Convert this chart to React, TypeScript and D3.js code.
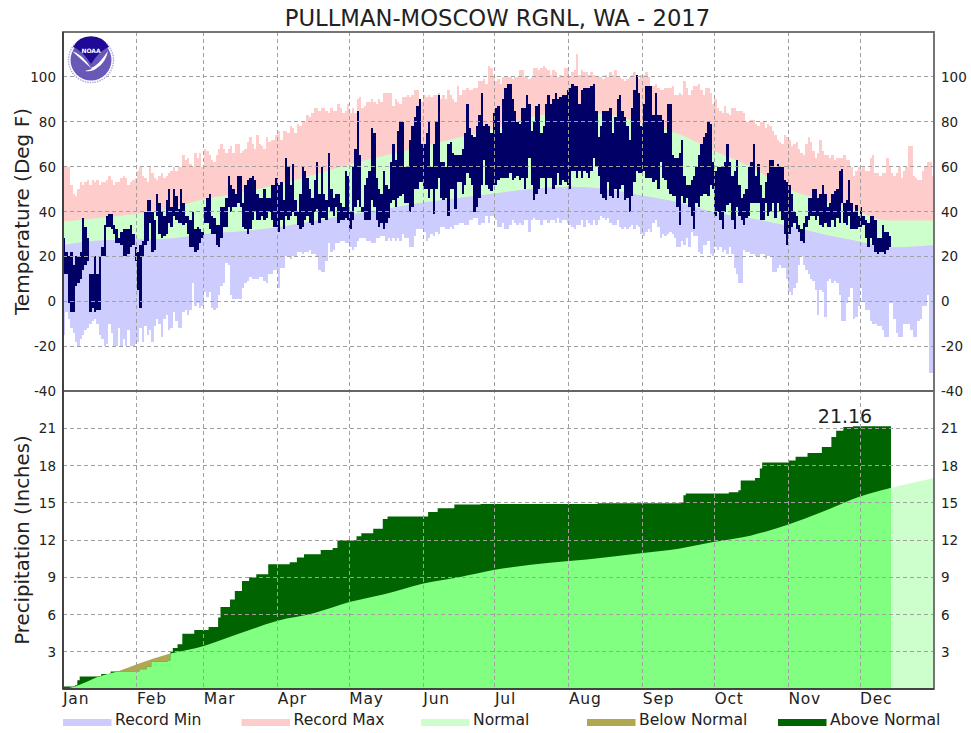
import React from "react";
import * as d3 from "d3";

const title = "PULLMAN-MOSCOW RGNL, WA - 2017";
const monthLabels = ["Jan","Feb","Mar","Apr","May","Jun","Jul","Aug","Sep","Oct","Nov","Dec"];
const monthStarts = [0,31,59,90,120,151,181,212,243,273,304,334];
const tempTicks = [-40,-20,0,20,40,60,80,100];
const precipTicks = [3,6,9,12,15,18,21];

const recordMax = [
60,60,60,52,48,47,50,53,52,53,54,52,54,53,54,52,53,53,54,56,54,52,53,53,55,56,55,52,53,54,55,
58,60,56,55,53,60,57,55,54,56,57,55,56,57,58,60,58,60,60,65,63,64,61,60,66,64,66,60,
68,67,65,63,62,65,68,70,68,66,68,69,66,70,70,66,67,68,71,73,70,68,74,70,69,68,73,71,72,72,74,
76,72,76,76,75,78,77,75,79,78,80,80,83,82,84,86,86,85,86,86,85,84,86,85,85,88,86,84,85,88,
84,86,84,90,91,86,87,89,89,90,89,88,90,89,93,93,93,93,87,90,89,88,91,91,92,91,92,94,94,89,89,
92,91,92,91,92,92,93,90,92,90,94,92,90,89,96,92,94,94,95,94,94,95,95,98,98,99,97,105,104,100,
98,99,97,100,100,100,100,99,100,100,103,103,100,100,99,100,104,104,103,104,105,104,103,101,103,102,100,101,100,104,104,
100,102,103,110,101,103,102,102,101,102,101,100,100,100,99,101,100,102,101,103,100,100,99,98,99,100,101,102,100,99,101,
101,102,100,96,96,97,95,94,94,95,95,95,96,92,92,93,92,98,95,92,94,96,96,97,94,92,95,95,93,88,
90,86,85,84,87,84,83,86,86,85,85,85,84,80,80,81,81,79,78,80,80,77,79,78,76,74,72,71,70,74,73,
72,69,70,71,68,66,65,70,73,71,67,64,66,72,67,65,65,64,65,63,64,64,64,65,63,63,60,56,58,60,
59,60,58,58,64,65,57,57,56,57,57,64,60,57,56,57,60,55,58,60,69,69,56,55,54,54,58,60,62,62,56];

const recordMin = [
-15,-5,-8,-12,-14,-18,-20,-17,-15,-13,-12,-10,-9,-8,-10,-15,-17,-20,-19,-10,-14,-20,-20,-12,-20,-17,-20,-13,-20,-20,-19,
-18,-12,-18,-11,-15,-13,-18,-11,-8,-10,-16,-8,-6,-13,-12,-5,-9,-12,-12,-5,-4,-6,-4,8,-2,-1,-3,-2,
4,2,4,-3,-4,-3,3,7,8,17,16,3,1,1,1,1,6,8,9,11,10,10,10,11,11,9,8,12,12,14,14,
6,15,15,20,20,19,20,20,22,22,21,22,22,23,21,21,20,14,13,13,18,26,22,23,26,26,27,27,26,26,
24,23,24,27,28,28,28,27,27,26,26,28,28,29,29,27,28,27,28,27,28,27,30,28,28,24,24,29,32,32,32,
31,27,28,30,29,31,30,33,33,32,32,33,32,34,34,35,35,34,34,36,36,37,37,34,35,35,38,35,38,38,
36,33,33,35,32,32,34,36,35,34,35,34,36,36,31,36,37,36,36,34,36,36,35,36,36,35,37,35,36,36,35,
34,33,32,34,34,36,33,36,35,34,36,34,36,38,37,36,37,35,34,34,36,33,32,33,32,33,34,32,34,33,30,
29,31,32,31,35,36,33,28,30,29,30,31,30,28,24,24,27,25,28,24,31,29,29,22,21,25,25,27,21,20,
24,23,24,22,23,21,24,21,15,12,8,8,23,22,22,21,21,20,20,21,21,19,20,20,13,13,15,16,15,15,10,
4,3,6,8,16,20,16,14,12,10,9,5,-6,5,4,-7,9,10,8,9,8,3,-9,-9,-1,2,6,-8,-7,-2,
6,0,-4,-4,-9,-10,-10,-11,-11,-13,-16,-16,-1,-1,-8,-14,-16,-16,-10,-10,-10,-13,-16,-16,-9,-8,-2,-2,3,-32,-32];

const normalDays = [0,14,31,45,59,73,90,104,120,135,151,166,181,196,212,227,243,258,273,288,304,318,334,340,346,365];
const normalHigh = [35.5,37,39,41.5,45.5,48,52,56,61,65,69,73,77,82,84,83.5,79,74.5,67,60,50,45,40,37,36,36];
const normalLow = [25,27,27.5,28,30,31,33,35.5,38.5,41,44,46,48,50,51,50,47,44,39.5,37,33.5,30,26.5,25,24,25];

const actualHigh = [
28,22,20,22,16,20,20,22,37,33,28,12,12,20,12,20,24,34,38,39,39,34,32,28,31,32,32,32,34,30,24,
22,25,27,40,45,45,40,36,48,44,40,38,45,50,42,50,47,41,50,44,38,38,36,40,32,33,32,31,
42,46,48,38,37,34,34,42,42,46,56,52,50,48,56,56,44,52,54,55,56,54,48,46,46,50,46,46,52,52,55,
52,53,45,64,60,52,61,45,40,48,60,58,55,50,46,54,62,48,60,48,45,66,50,46,48,48,44,42,58,56,
40,60,68,85,65,42,52,55,58,77,75,55,50,48,58,52,50,62,70,63,76,80,80,60,60,72,78,82,87,90,70,
70,75,80,60,70,80,92,62,62,60,70,71,66,65,65,65,68,75,88,77,74,73,78,83,93,78,79,78,75,84,
86,87,75,90,95,97,97,90,85,80,79,86,86,92,88,76,80,87,88,75,78,88,92,88,90,93,90,91,92,92,94,
95,97,96,96,88,94,95,95,95,96,97,85,73,78,85,85,85,86,75,82,90,92,85,82,78,72,86,94,101,93,78,
88,96,96,96,83,93,83,83,81,75,88,88,65,64,64,66,72,56,52,52,54,56,60,65,70,73,75,80,79,62,
58,60,60,60,62,70,62,56,58,63,52,46,48,50,60,62,70,56,61,52,46,53,57,63,63,60,61,60,60,54,53,
52,48,40,38,34,32,35,38,46,46,50,50,46,48,52,48,42,44,48,49,50,58,59,44,45,54,44,40,43,38,
42,38,36,35,38,38,36,28,28,34,31,31,29];

const actualLow = [
12,12,-1,-5,-5,7,8,10,14,16,18,-5,-3,-5,-4,-4,20,20,33,33,32,30,26,26,25,20,20,21,24,25,18,
5,-3,20,25,27,35,22,23,38,30,28,29,30,35,33,38,36,35,35,34,35,30,24,24,22,23,26,28,
35,35,32,30,30,25,24,28,33,33,42,40,42,42,44,42,33,32,30,32,36,40,36,36,38,36,37,40,36,33,33,
31,36,32,38,36,38,40,38,34,32,33,36,38,35,34,40,41,35,37,37,36,42,40,38,42,35,36,36,37,36,
32,36,42,45,42,40,36,36,36,45,42,36,33,35,32,35,37,44,45,42,46,47,48,44,44,40,42,50,50,53,53,
50,50,46,50,39,50,55,46,45,46,38,50,50,41,53,53,48,52,57,55,52,40,42,46,52,63,52,50,49,52,
52,54,55,55,55,55,57,54,55,56,54,55,50,55,64,52,45,48,50,55,55,48,55,55,50,52,57,52,54,53,52,
50,58,58,55,58,55,58,57,55,58,64,60,56,48,46,45,53,47,46,50,46,50,52,45,46,40,47,53,58,57,57,
58,55,55,55,53,54,50,62,55,54,50,48,47,47,42,34,47,44,46,42,38,32,44,42,47,48,48,47,52,50,
38,40,36,32,40,43,44,36,32,42,38,36,34,37,38,44,44,44,44,36,36,44,38,40,44,37,44,40,36,30,25,
30,33,35,32,31,27,26,33,36,38,38,36,38,34,33,35,33,33,36,33,37,35,44,35,34,38,32,32,32,33,
33,34,28,24,28,25,22,21,22,22,21,23,24];

const precipNormalDays = [0,5,15,24,31,45,59,73,90,105,120,135,151,166,181,196,212,227,243,258,273,288,304,318,334,346,365];
const precipNormal = [0,0.2,1.0,1.5,2.0,2.85,3.47,4.4,5.5,6.1,7.0,7.65,8.5,9.0,9.6,10.0,10.3,10.6,10.95,11.3,11.85,12.35,13.25,14.25,15.5,16.15,17.0];

const precipDays = [0,5,6,7,16,20,32,35,37,44,45,46,48,50,55,61,65,66,70,72,75,78,81,86,95,98,101,108,113,115,123,125,130,134,136,153,157,164,175,224,259,260,261,279,283,284,290,292,293,304,307,312,318,322,324,327,331,347];
const precipTotal = [0.2,0.3,0.7,1.0,1.2,1.4,1.6,1.8,2.2,2.3,3.0,3.3,3.6,4.45,4.75,5.0,5.75,6.6,7.2,7.9,8.7,9.0,9.25,10.05,10.2,10.6,10.85,11.2,11.35,11.97,12.3,12.55,12.9,13.7,13.9,14.25,14.55,14.85,14.9,14.95,15.0,15.6,15.75,15.85,16.0,16.8,17.0,17.75,18.25,18.4,18.7,19.0,19.5,20.3,20.8,21.1,21.16,21.16];
const lastPrecipLabel = "21.16";

const legendItems = ["Record Min","Record Max","Normal","Below Normal","Above Normal"];
const legendColors = ["#ccccff","#ffcccc","#ccffcc","#b0a850","#006400"];
const legendX = [63,241.5,421,587,778];

const W = 971, H = 733;
const L = 63, R = 934, T = 32, MID = 391, B = 689;
const FONT = "'DejaVu Sans', sans-serif";
const GRID = "#a0a0a0", TEXT = "#222", FRAME = "#666";

export default function App() {
  const x = d3.scaleLinear().domain([0, 365]).range([L, R]);
  const yT = d3.scaleLinear().domain([-40, 120]).range([MID, T]);
  const yP = d3.scaleLinear().domain([0, 24]).range([B, MID]);
  const dataEnd = x(actualHigh.length);

  const normalBand = d3.area<number>().curve(d3.curveMonotoneX)
    .x((d) => x(d)).y0((_, i) => yT(normalLow[i])).y1((_, i) => yT(normalHigh[i]))(normalDays)!;
  const underNormalLow = d3.area<number>().curve(d3.curveMonotoneX)
    .x((d) => x(d)).y0(MID).y1((_, i) => yT(normalLow[i]))(normalDays)!;
  const normalPrecipArea = d3.area<number>().curve(d3.curveMonotoneX)
    .x((d) => x(d)).y0(B).y1((_, i) => yP(precipNormal[i]))(precipNormalDays)!;
  const observedArea = d3.area<number>()
    .curve(d3.curveStepAfter)
    .x((d) => x(d)).y0(B).y1((_, i) => yP(precipTotal[i]))(precipDays)!;

  return (
    <svg width={W} height={H} viewBox={`0 0 ${W} ${H}`}
      style={{ position: "absolute", left: 0, top: 0, background: "#fff" }} fontFamily={FONT}>
      <defs>
        <clipPath id="belowLow"><path d={underNormalLow} /></clipPath>
        <clipPath id="toDate"><rect x={L} y={MID} width={dataEnd - L} height={B - MID} /></clipPath>
        <clipPath id="underObserved"><path d={observedArea} /></clipPath>
      </defs>

      <text x={497.5} y={26} fontSize={22.7} textAnchor="middle" fill={TEXT}>{title}</text>

      {/* temperature */}
      <g shapeRendering="crispEdges">
        {recordMax.map((v, i) => (
          <rect key={i} x={x(i)} width={x(i + 1) - x(i)} y={yT(v)} height={yT(recordMin[i]) - yT(v)} fill="#ffcccc" />
        ))}
      </g>
      <path d={normalBand} fill="#ccffcc" />
      <g shapeRendering="crispEdges" clipPath="url(#belowLow)">
        {recordMax.map((v, i) => (
          <rect key={i} x={x(i)} width={x(i + 1) - x(i)} y={yT(v)} height={yT(recordMin[i]) - yT(v)} fill="#ccccff" />
        ))}
      </g>
      <g shapeRendering="crispEdges">
        {actualHigh.map((v, i) => (
          <rect key={i} x={x(i)} width={x(i + 1) - x(i)} y={yT(v)} height={yT(actualLow[i]) - yT(v)} fill="#000066" />
        ))}
      </g>

      {/* precipitation */}
      <path d={normalPrecipArea} fill="#ccffcc" />
      <g clipPath="url(#toDate)">
        <path d={normalPrecipArea} fill="#b0a850" />
        <path d={observedArea} fill="#006400" />
        <path d={normalPrecipArea} fill="#80ff80" clipPath="url(#underObserved)" />
      </g>

      {/* grid */}
      <g stroke={GRID} strokeDasharray="4 3" strokeWidth={1} shapeRendering="crispEdges">
        {monthStarts.slice(1).map((d) => <line key={d} x1={x(d)} x2={x(d)} y1={T} y2={B} />)}
        {tempTicks.slice(1).map((t) => <line key={t} x1={L} x2={R} y1={yT(t)} y2={yT(t)} />)}
        {precipTicks.map((t) => <line key={t} x1={L} x2={R} y1={yP(t)} y2={yP(t)} />)}
      </g>

      {/* frame */}
      <rect x={L} y={T} width={R - L} height={B - T} fill="none" stroke={FRAME} strokeWidth={1.8} />
      <line x1={L} x2={R} y1={MID} y2={MID} stroke={FRAME} strokeWidth={2} />
      <line x1={L} x2={R} y1={B} y2={B} stroke="#333" strokeWidth={1.5} />
      <line x1={L} x2={L} y1={T} y2={B} stroke="#333" strokeWidth={1.5} />

      {/* logo */}
      <g>
        <circle cx={91} cy={60} r={22.5} fill="#fff" stroke="#b0b0d8" strokeWidth={1.5} strokeDasharray="1.5 1" />
        <circle cx={91} cy={60} r={20.5} fill="#6a58b8" />
        <path d="M73 47 A20.5 20.5 0 0 1 109 47 Q100 50 91 64 Q82 50 73 47 Z" fill="#1e0a96" />
        <path d="M72 51 Q82 54 91 68 Q98 66 108 51 Q106 62 97 68 Q92 72 85 71 L92 69 Q82 60 72 51 Z" fill="#fff" />
        <text x={91} y={53} fontSize={6} fontWeight="bold" textAnchor="middle" fill="#fff">NOAA</text>
      </g>

      {/* axis labels */}
      <g fontSize={13.5} fill={TEXT}>
        {tempTicks.map((t) => (
          <g key={t}>
            <text x={56} y={yT(t) + 5} textAnchor="end">{t}</text>
            <text x={941} y={yT(t) + 5}>{t}</text>
          </g>
        ))}
        {precipTicks.map((t) => (
          <g key={t}>
            <text x={56} y={yP(t) + 5} textAnchor="end">{t}</text>
            <text x={941} y={yP(t) + 5}>{t}</text>
          </g>
        ))}
        {monthLabels.map((m, i) => (
          <text key={m} x={x(monthStarts[i])} y={704} fontSize={15.5} letterSpacing={0.8}>{m}</text>
        ))}
      </g>
      <text transform="translate(29,211.5) rotate(-90)" textAnchor="middle" fontSize={20} fill={TEXT}>Temperature (Deg F)</text>
      <text transform="translate(29,540) rotate(-90)" textAnchor="middle" fontSize={19.8} fill={TEXT}>Precipitation (Inches)</text>
      <text x={845} y={423} textAnchor="middle" fontSize={19} fill={TEXT}>{lastPrecipLabel}</text>

      {/* legend */}
      {legendItems.map((name, i) => (
        <g key={name}>
          <rect x={legendX[i]} y={719} width={48.5} height={7} fill={legendColors[i]} />
          <text x={legendX[i] + 52} y={725} fontSize={15.6} fill={TEXT}>{name}</text>
        </g>
      ))}
    </svg>
  );
}
